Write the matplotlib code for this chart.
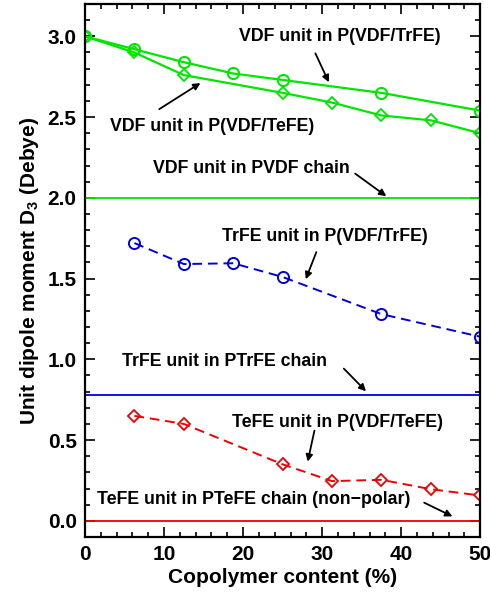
import matplotlib.pyplot as plt
from matplotlib.ticker import MultipleLocator

plt.rcParams['font.family'] = ['Liberation Sans', 'DejaVu Sans']
plt.rcParams['font.weight'] = 'bold'
plt.rcParams['mathtext.fontset'] = 'custom'
plt.rcParams['mathtext.rm'] = 'Liberation Sans'

# VDF unit in P(VDF/TrFE)
vdf_trfe_x = [0, 6.25, 12.5, 18.75, 25, 37.5, 50]
vdf_trfe_y = [3.0, 2.92, 2.84, 2.77, 2.73, 2.65, 2.54]

# VDF unit in P(VDF/TeFE)
vdf_tefe_x = [0, 6.25, 12.5, 25, 31.25, 37.5, 43.75, 50]
vdf_tefe_y = [3.0, 2.90, 2.76, 2.65, 2.59, 2.51, 2.48, 2.40]

# TrFE unit in P(VDF/TrFE)
trfe_x = [6.25, 12.5, 18.75, 25, 37.5, 50]
trfe_y = [1.72, 1.59, 1.595, 1.51, 1.28, 1.14]

# TeFE unit in P(VDF/TeFE)
tefe_x = [6.25, 12.5, 25, 31.25, 37.5, 43.75, 50]
tefe_y = [0.65, 0.60, 0.35, 0.246, 0.254, 0.196, 0.157]

# homopolymer reference levels
pvdf_level = 2.0
ptrfe_level = 0.78
ptefe_level = 0.0

green = '#00e600'
blue = '#0000dd'
red = '#ee0000'

fig = plt.figure(figsize=(4.9, 6.01), dpi=100)
ax = fig.add_axes([0.1735, 0.1065, 0.8065, 0.8868])

ax.plot(vdf_trfe_x, vdf_trfe_y, '-o', color=green, lw=1.6, ms=8, mfc='none', mew=1.5)
ax.plot(vdf_tefe_x, vdf_tefe_y, '-D', color=green, lw=1.6, ms=6, mfc='none', mew=1.3)
ax.axhline(pvdf_level, color=green, lw=1.3)

ax.plot(trfe_x, trfe_y, '--o', color=blue, lw=1.4, ms=8, mfc='none', mew=1.4, dashes=(5, 3))
ax.axhline(ptrfe_level, color=blue, lw=1.3)

ax.plot(tefe_x, tefe_y, '--D', color=red, lw=1.4, ms=6, mfc='none', mew=1.3, dashes=(5, 3))
ax.axhline(ptefe_level, color=red, lw=1.3)

# annotations: text, text position, arrow tail, arrow head
notes = [
    ('VDF unit in P(VDF/TrFE)', (32.3, 3.0), (29.0, 2.91), (31.0, 2.70)),
    ('VDF unit in P(VDF/TeFE)', (16.1, 2.44), (9.1, 2.54), (14.9, 2.72)),
    ('VDF unit in PVDF chain', (21.1, 2.18), (33.9, 2.16), (38.4, 2.0)),
    ('TrFE unit in P(VDF/TrFE)', (30.4, 1.76), (29.4, 1.68), (27.8, 1.48)),
    ('TrFE unit in PTrFE chain', (17.7, 0.985), (32.5, 0.955), (35.8, 0.79)),
    ('TeFE unit in P(VDF/TeFE)', (32.0, 0.61), (29.1, 0.575), (28.1, 0.35)),
    ('TeFE unit in PTeFE chain (non\u2212polar)', (21.3, 0.13), (42.6, 0.12), (46.8, 0.02)),
]
for text, pos, tail, head in notes:
    ax.text(pos[0], pos[1], text, ha='center', va='center', fontsize=12.8, fontweight='bold')
    ax.annotate('', xy=head, xytext=tail,
                arrowprops=dict(arrowstyle='-|>', color='black', lw=1.3, mutation_scale=10))

ax.set_xlim(0, 50)
ax.set_ylim(-0.1, 3.2)
ax.xaxis.set_major_locator(MultipleLocator(10))
ax.xaxis.set_minor_locator(MultipleLocator(2))
ax.yaxis.set_major_locator(MultipleLocator(0.5))
ax.yaxis.set_minor_locator(MultipleLocator(0.1))
ax.tick_params(which='both', direction='in', top=True, right=True, labelsize=15, width=1.2)
ax.tick_params(which='major', length=7, pad=6)
ax.tick_params(which='minor', length=3.5)
for lab in ax.get_xticklabels() + ax.get_yticklabels():
    lab.set_fontweight('bold')
for sp in ax.spines.values():
    sp.set_linewidth(1.6)

ax.set_xlabel('Copolymer content (%)', fontsize=15, fontweight='bold', labelpad=3)
ax.set_ylabel('Unit dipole moment D$_{\\mathregular{3}}$ (Debye)', fontsize=15, fontweight='bold', labelpad=5)

fig.savefig('out.png', dpi=100)
